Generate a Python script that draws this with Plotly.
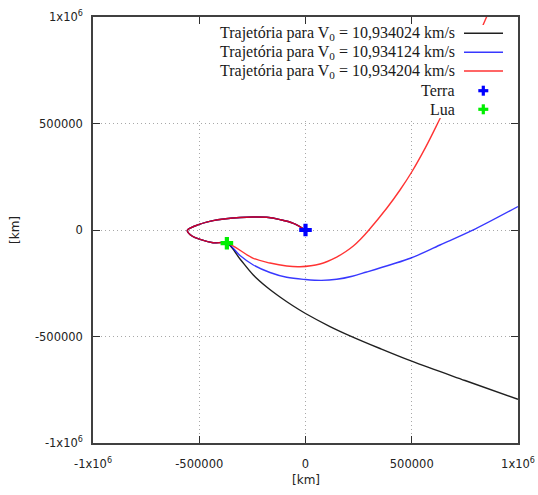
import plotly.graph_objects as go

# ---------------- data (km) ----------------
# common closed loop: Earth -> upper arc -> left -> lower arc -> Moon
loop_x = [0, -57000, -120000, -183000, -247000, -308000, -375000, -435000,
          -520000, -556000, -534000, -496000, -435000, -368000]
loop_y = [0, 31500, 49000, 59600, 61000, 58700, 52600, 43700,
          18800, -2000, -28000, -43700, -59600, -62400]

# outbound branches after the Moon
black_x = [-308200, -245600, -182600, -120000, -61200, 0, 115300, 209400,
           350600, 499800, 750600, 1000000]
black_y = [-136200, -211300, -267600, -314600, -354500, -392000, -453100,
           -496700, -556300, -616000, -706600, -794800]

blue_x = [-308200, -245600, -167100, -88500, 0, 75000, 146800, 220000, 288000,
          400000, 496500, 632900, 782100, 1000000]
blue_y = [-119700, -164300, -199500, -222100, -232400, -236500, -231500,
          -217000, -197000, -163000, -131500, -70400, -3300, 110300]

red_x = [-245600, -167100, -88500, -25900, 68200, 146800, 190000, 225000,
         260000, 295500, 382100, 444700, 499800, 565000, 629600, 739000,
         849400, 873000]
red_y = [-132900, -154900, -169000, -172300, -159600, -126800, -101000,
         -75100, -42000, -3300, 101900, 187800, 272300, 388000, 516400,
         741000, 993900, 1047000]

terra = (0, 0)
lua = (-370000, -62000)

labels = ["Trajetória para V<sub>0</sub> = 10,934024 km/s",
          "Trajetória para V<sub>0</sub> = 10,934124 km/s",
          "Trajetória para V<sub>0</sub> = 10,934204 km/s",
          "Terra", "Lua"]
line_colors = ["#202020", "rgba(0,0,255,0.78)", "rgba(255,0,0,0.8)"]
marker_colors = ["#0000ff", "#00ee00"]

tick_vals = [-1000000, -500000, 0, 500000, 1000000]
tick_text = ["-1x10<sup>6</sup>", "-500000", "0", "500000", "1x10<sup>6</sup>"]

# ---------------- figure ----------------
fig = go.Figure()
branches = [(black_x, black_y), (blue_x, blue_y), (red_x, red_y)]
for (bx, by), col in zip(branches, line_colors):
    fig.add_trace(go.Scatter(
        x=loop_x + bx, y=loop_y + by, mode="lines",
        line=dict(color=col, width=1.4, shape="spline", smoothing=1.0,
                  simplify=False),
        showlegend=False, hoverinfo="skip"))

for (px, py), col in zip([terra, lua], marker_colors):
    fig.add_trace(go.Scatter(
        x=[px], y=[py], mode="markers",
        marker=dict(symbol="cross", size=10.5, color=col, line=dict(width=0)),
        showlegend=False, hoverinfo="skip"))

axis_common = dict(
    range=[-1000000, 1000000], tickvals=tick_vals, ticktext=tick_text,
    showline=True, linecolor="#404040", linewidth=1.5, mirror="allticks",
    ticks="inside", ticklen=7, tickwidth=1.2, tickcolor="#303030",
    showgrid=True, gridcolor="#a8a8a8", gridwidth=1, griddash="1px,3px",
    zeroline=False, automargin=False,
    tickfont=dict(family="DejaVu Sans", size=11.5, color="#222222"),
)
fig.update_xaxes(**axis_common, ticklabelstandoff=9)
fig.update_yaxes(**axis_common, ticklabelstandoff=6)

# ---------------- opaque key ----------------
W, H = 425.0, 426.0
def pxp(px):
    return (px - 93) / W
def pyp(py):
    return (443 - py) / H

shapes = [dict(type="rect", xref="x", yref="y", x0=-994000, x1=994000,
               y0=526000, y1=962000, fillcolor="white", line=dict(width=0),
               layer="above")]
rows = [33.3, 52.3, 71.0, 90.7, 109.3]
annotations = []
for i, (lab, ry) in enumerate(zip(labels, rows)):
    annotations.append(dict(
        text=lab, xref="paper", yref="paper", x=pxp(457), y=pyp(ry),
        xanchor="right", yanchor="middle", showarrow=False,
        font=dict(family="Liberation Serif", size=16, color="#1a1a1a")))
    if i < 3:
        shapes.append(dict(type="line", xref="paper", yref="paper",
                           x0=pxp(464), x1=pxp(503), y0=pyp(ry), y1=pyp(ry),
                           line=dict(color=line_colors[i], width=1.6),
                           layer="above"))
    else:
        col = marker_colors[i - 3]
        cx, cy = 483.3, ry
        shapes.append(dict(type="rect", xref="paper", yref="paper",
                           x0=pxp(cx - 5), x1=pxp(cx + 5),
                           y0=pyp(cy + 1.6), y1=pyp(cy - 1.6),
                           fillcolor=col, line=dict(width=0), layer="above"))
        shapes.append(dict(type="rect", xref="paper", yref="paper",
                           x0=pxp(cx - 1.6), x1=pxp(cx + 1.6),
                           y0=pyp(cy + 5), y1=pyp(cy - 5),
                           fillcolor=col, line=dict(width=0), layer="above"))

# axis titles
annotations.append(dict(text="[km]", xref="paper", yref="paper", x=0.5,
                        y=pyp(480), xanchor="center", yanchor="middle",
                        showarrow=False,
                        font=dict(family="DejaVu Sans", size=12, color="#222222")))
annotations.append(dict(text="[km]", xref="paper", yref="paper", x=pxp(15),
                        y=0.5, xanchor="center", yanchor="middle", textangle=-90,
                        showarrow=False,
                        font=dict(family="DejaVu Sans", size=12, color="#222222")))

fig.update_layout(
    width=538, height=495,
    margin=dict(l=93, r=20, t=17, b=52),
    paper_bgcolor="white", plot_bgcolor="white",
    showlegend=False, shapes=shapes, annotations=annotations,
)

fig.write_html("out.html", config={"displayModeBar": False},
               post_script="document.body.style.margin='0';"
                           "document.body.style.overflow='hidden';")
